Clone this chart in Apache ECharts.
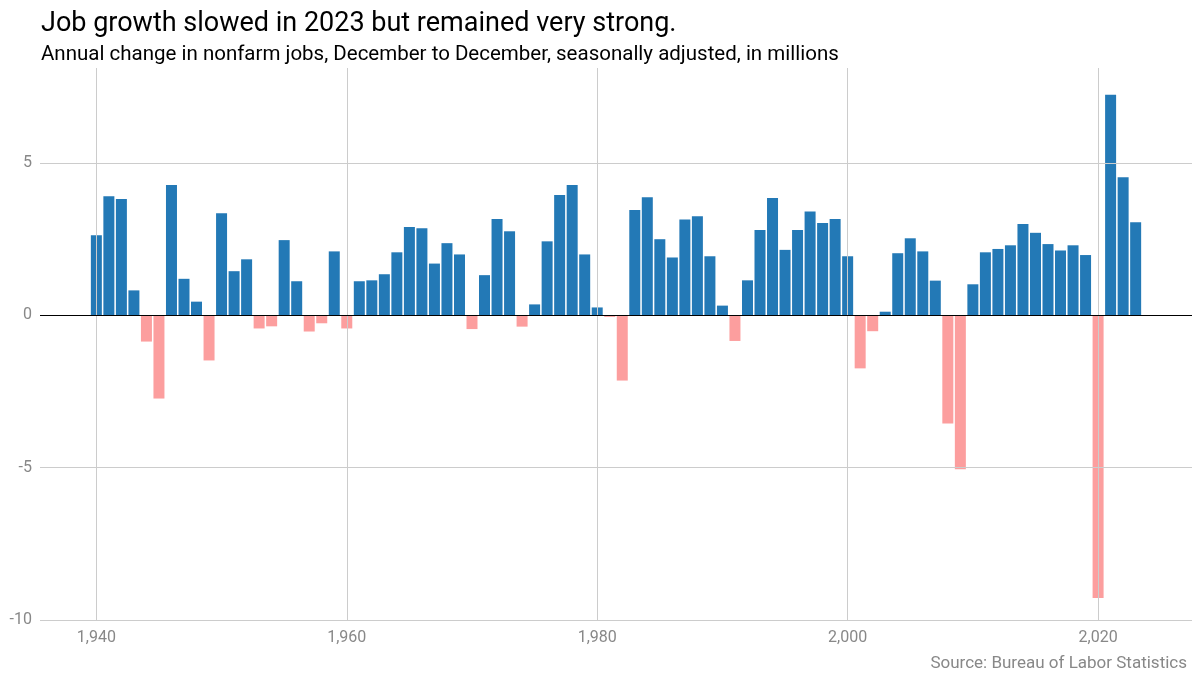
<!DOCTYPE html>
<html><head><meta charset="utf-8">
<script src="https://cdn.jsdelivr.net/npm/echarts@6/dist/echarts.min.js"></script>
<style>html,body{margin:0;padding:0;background:#fff}#main{width:1200px;height:676px}</style>
</head><body><div id="main"></div>
<script>
var years = [];
for (var y = 1940; y <= 2023; y++) years.push(y);
var changes = [
	2.63, 3.91, 3.82, 0.82, -0.86, -2.73, 4.28, 1.2, 0.45, -1.48,
	3.35, 1.45, 1.84, -0.43, -0.36, 2.47, 1.12, -0.53, -0.26, 2.1,
	-0.43, 1.12, 1.15, 1.35, 2.07, 2.9, 2.86, 1.7, 2.37, 2.0,
	-0.45, 1.32, 3.16, 2.76, -0.37, 0.36, 2.43, 3.95, 4.28, 2.0,
	0.26, -0.05, -2.14, 3.46, 3.88, 2.5, 1.9, 3.15, 3.25, 1.94,
	0.32, -0.84, 1.15, 2.8, 3.85, 2.15, 2.8, 3.41, 3.03, 3.16,
	1.94, -1.74, -0.52, 0.12, 2.04, 2.53, 2.1, 1.14, -3.55, -5.05,
	1.02, 2.07, 2.18, 2.3, 3.0, 2.71, 2.34, 2.13, 2.3, 1.98,
	-9.28, 7.24, 4.53, 3.06
];
var xTicks = [1940, 1960, 1980, 2000, 2020];
var yTicks = [-10, -5, 0, 5];

var myChart = echarts.init(document.getElementById('main'));
var barData = [];
for (var i = 0; i < years.length; i++) {
	barData.push({
		value: [years[i], changes[i]],
		itemStyle: { color: changes[i] >= 0 ? '#2379b6' : '#fc9e9e' }
	});
}
var gridLines = [];
xTicks.forEach(function (t) { gridLines.push({ xAxis: t }); });
yTicks.forEach(function (t) { if (t !== 0) gridLines.push({ yAxis: t }); });

var option = {
	animation: false,
	title: [{
		text: 'Job growth slowed in 2023 but remained very strong.',
		left: 36, top: 6,
		textStyle: { fontFamily: 'Roboto', fontSize: 27, fontWeight: 'normal', color: '#000' }
	}, {
		text: 'Annual change in nonfarm jobs, December to December, seasonally adjusted, in millions',
		left: 36, top: 39,
		textStyle: { fontFamily: 'Roboto', fontSize: 20.5, fontWeight: 'normal', color: '#000' }
	}, {
		text: 'Source: Bureau of Labor Statistics',
		right: 8, top: 650,
		textStyle: { fontFamily: 'Roboto', fontSize: 17, fontWeight: 'normal', color: '#888' }
	}],
	grid: { left: 40, right: 8, top: 68, bottom: 56 },
	xAxis: {
		type: 'value', min: 1935.5, max: 2027.5,
		axisLine: { show: false }, axisTick: { show: false }, splitLine: { show: false },
		axisLabel: { customValues: xTicks, color: '#888', fontSize: 16, fontFamily: 'Roboto', margin: 10 }
	},
	yAxis: {
		type: 'value', min: -10, max: 8.12,
		axisLine: { show: false }, axisTick: { show: false }, splitLine: { show: false },
		axisLabel: { customValues: yTicks, color: '#888', fontSize: 16, fontFamily: 'Roboto', margin: 8 }
	},
	series: [{
		type: 'line', data: [], z: 1,
		markLine: {
			silent: true, symbol: 'none', label: { show: false },
			lineStyle: { color: '#cccccc', type: 'solid', width: 1 },
			data: gridLines
		}
	}, {
		type: 'bar', data: barData, barWidth: 11, z: 2,
		markLine: {
			silent: true, symbol: 'none', label: { show: false },
			lineStyle: { color: '#000', type: 'solid', width: 1.2 },
			data: [{ yAxis: 0 }]
		}
	}]
};
myChart.setOption(option);
</script></body></html>
